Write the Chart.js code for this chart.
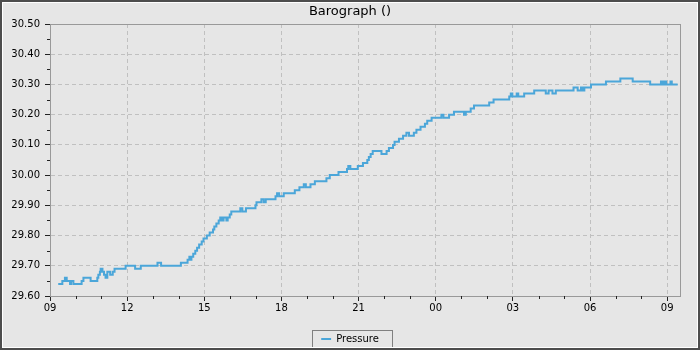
<!DOCTYPE html>
<html>
<head>
<meta charset="utf-8">
<script src="https://cdn.jsdelivr.net/npm/chart.js@4/dist/chart.umd.min.js"></script>
<style>
  html, body { margin: 0; padding: 0; background: #e6e6e6; }
  #wrap { width: 700px; height: 350px; position: relative; }
</style>
</head>
<body>
<div id="wrap"><canvas id="baro"></canvas></div>
<script>
// hours after 09:00 on day one, and the reading that starts at that time
var hoursFrom9 = [0.32, 0.48, 0.58, 0.65, 0.78, 0.82, 0.91, 1.23, 1.30, 1.58,
    1.84, 1.88, 1.94, 1.97, 2.04, 2.10, 2.16, 2.23, 2.34, 2.44,
    2.51, 2.94, 3.31, 3.53, 4.18, 4.32, 5.09, 5.35, 5.42, 5.45,
    5.50, 5.57, 5.65, 5.72, 5.80, 5.90, 5.97, 6.10, 6.21, 6.34,
    6.39, 6.47, 6.56, 6.62, 6.69, 6.75, 6.86, 6.91, 6.99, 7.05,
    7.40, 7.48, 7.62, 7.99, 8.03, 8.22, 8.31, 8.39, 8.77, 8.83,
    8.91, 9.09, 9.52, 9.70, 9.87, 9.95, 10.13, 10.30, 10.75, 10.88,
    11.22, 11.55, 11.60, 11.68, 11.97, 12.17, 12.34, 12.40, 12.47, 12.55,
    12.89, 13.09, 13.18, 13.34, 13.40, 13.57, 13.73, 13.86, 13.96, 14.15,
    14.25, 14.41, 14.58, 14.67, 14.84, 15.22, 15.30, 15.52, 15.71, 16.10,
    16.17, 16.36, 16.49, 17.08, 17.25, 17.86, 17.92, 17.98, 18.15, 18.21,
    18.44, 18.83, 19.28, 19.39, 19.54, 19.67, 20.36, 20.52, 20.65, 20.71,
    20.78, 21.04, 21.62, 22.18, 22.66, 23.34, 23.76, 23.83, 23.89, 23.96,
    24.13, 24.18, 24.41];
var pressure = [29.64, 29.65, 29.66, 29.65, 29.64, 29.65, 29.64, 29.65, 29.66, 29.65,
    29.66, 29.67, 29.68, 29.69, 29.68, 29.67, 29.66, 29.68, 29.67, 29.68,
    29.69, 29.70, 29.69, 29.70, 29.71, 29.70, 29.71, 29.72, 29.73, 29.72,
    29.73, 29.74, 29.75, 29.76, 29.77, 29.78, 29.79, 29.80, 29.81, 29.82,
    29.83, 29.84, 29.85, 29.86, 29.85, 29.86, 29.85, 29.86, 29.87, 29.88,
    29.89, 29.88, 29.89, 29.90, 29.91, 29.92, 29.91, 29.92, 29.93, 29.94,
    29.93, 29.94, 29.95, 29.96, 29.97, 29.96, 29.97, 29.98, 29.99, 30.00,
    30.01, 30.02, 30.03, 30.02, 30.03, 30.04, 30.05, 30.06, 30.07, 30.08,
    30.07, 30.08, 30.09, 30.10, 30.11, 30.12, 30.13, 30.14, 30.13, 30.14,
    30.15, 30.16, 30.17, 30.18, 30.19, 30.20, 30.19, 30.20, 30.21, 30.20,
    30.21, 30.22, 30.23, 30.24, 30.25, 30.26, 30.27, 30.26, 30.27, 30.26,
    30.27, 30.28, 30.27, 30.28, 30.27, 30.28, 30.29, 30.28, 30.29, 30.28,
    30.29, 30.30, 30.31, 30.32, 30.31, 30.30, 30.31, 30.30, 30.31, 30.30,
    30.31, 30.30, 30.30];
var hourLabels = ['09', '12', '15', '18', '21', '00', '03', '06', '09'];
var yMin = 29.60, yMax = 30.50;
var xMax = 24.5;

Chart.defaults.font.family = "'DejaVu Sans', sans-serif";
Chart.defaults.font.size = 10;
Chart.defaults.color = '#000';

var isMajorX = v => Math.abs(v % 3) < 1e-6;
var isMajorY = v => Math.round(v * 100) % 10 === 0;

// Frame, plot border, minor ticks and legend box
const decor = {
    id: 'decor',
    beforeDraw: (chart) => {
        var { ctx, width, height } = chart;
        ctx.save();
        ctx.fillStyle = '#e6e6e6';
        ctx.fillRect(0, 0, width, height);
        ctx.restore();
    },
    afterDraw: (chart) => {
        var { ctx, chartArea, width, height } = chart;
        ctx.save();
        // plot border
        ctx.strokeStyle = '#999';
        ctx.lineWidth = 1;
        ctx.strokeRect(Math.round(chartArea.left) + 0.5, Math.round(chartArea.top) + 0.5,
            Math.round(chartArea.right - chartArea.left), Math.round(chartArea.bottom - chartArea.top));

        // minor ticks
        ctx.strokeStyle = '#222';
        ctx.beginPath();
        var xs = chart.scales.x;
        for (var t of xs.ticks) {
            if (isMajorX(t.value)) continue;
            var px = Math.round(xs.getPixelForValue(t.value)) + 0.5;
            ctx.moveTo(px, chartArea.bottom);
            ctx.lineTo(px, chartArea.bottom + 3);
        }
        var ys = chart.scales.y;
        for (var t of ys.ticks) {
            if (isMajorY(t.value)) continue;
            var py = Math.round(ys.getPixelForValue(t.value)) + 0.5;
            ctx.moveTo(chartArea.left, py);
            ctx.lineTo(chartArea.left - 3, py);
        }
        ctx.stroke();

        // legend box
        var hb = chart.legend.legendHitBoxes[0];
        if (hb) {
            ctx.strokeStyle = '#808080';
            ctx.strokeRect(Math.round(hb.left - 9) + 0.5, Math.round(hb.top - 4) + 0.5,
                Math.round(hb.width + 22), 17);
        }

        // window frame
        ctx.strokeStyle = '#4d4d4d';
        ctx.lineWidth = 2;
        ctx.strokeRect(1, 1, width - 2, height - 2);
        ctx.strokeStyle = '#ffffff';
        ctx.lineWidth = 1;
        ctx.strokeRect(2.5, 2.5, width - 5, height - 5);
        ctx.restore();
    }
};

var points = hoursFrom9.map((h, i) => ({ x: h, y: pressure[i] }));

new Chart(document.getElementById('baro'), {
    type: 'line',
    data: {
        datasets: [{
            label: 'Pressure',
            data: points,
            borderColor: '#4ba6d9',
            backgroundColor: '#4ba6d9',
            borderWidth: 2,
            pointRadius: 0,
            stepped: true,
            fill: false
        }]
    },
    options: {
        responsive: true,
        maintainAspectRatio: false,
        animation: false,
        layout: { padding: { left: 3, right: 3, top: 3, bottom: -4 } },
        plugins: {
            title: {
                display: true,
                text: 'Barograph ()',
                color: '#000',
                font: { size: 13, weight: 'normal' },
                padding: { top: 1, bottom: 4.4 }
            },
            legend: {
                position: 'bottom',
                labels: {
                    usePointStyle: true,
                    pointStyle: 'line',
                    boxHeight: 7,
                    padding: 4,
                    color: '#000',
                    font: { size: 10 }
                }
            },
            tooltip: { enabled: false }
        },
        scales: {
            x: {
                type: 'linear',
                min: 0,
                max: xMax,
                afterBuildTicks: scale => {
                    var list = [];
                    for (var h = 0; h <= Math.floor(xMax); h++) list.push({ value: h });
                    scale.ticks = list;
                },
                afterFit: scale => { scale.height = 34; },
                ticks: {
                    stepSize: 1,
                    autoSkip: false,
                    maxRotation: 0,
                    padding: 1,
                    color: '#000',
                    callback: v => isMajorX(v) ? hourLabels[v / 3] : ''
                },
                grid: {
                    color: c => isMajorX(c.tick.value) ? '#c0c0c0' : 'rgba(0,0,0,0)',
                    tickColor: c => isMajorX(c.tick.value) ? '#222' : 'rgba(0,0,0,0)',
                    tickLength: 5,
                    lineWidth: 1
                },
                border: { color: '#999', dash: [4, 3] }
            },
            y: {
                min: yMin,
                max: yMax,
                afterFit: scale => { scale.width = 47; },
                ticks: {
                    stepSize: 0.05,
                    autoSkip: false,
                    padding: 5,
                    color: '#000',
                    callback: v => isMajorY(v) ? v.toFixed(2) : ''
                },
                grid: {
                    color: c => isMajorY(c.tick.value) ? '#c0c0c0' : 'rgba(0,0,0,0)',
                    tickColor: c => isMajorY(c.tick.value) ? '#222' : 'rgba(0,0,0,0)',
                    tickLength: 5,
                    lineWidth: 1
                },
                border: { color: '#999', dash: [4, 3] }
            },
            yr: {
                position: 'right',
                display: true,
                afterFit: scale => { scale.width = 17; },
                ticks: { display: false },
                grid: { display: false, drawTicks: false },
                border: { display: false }
            }
        }
    },
    plugins: [decor]
});
</script>
</body>
</html>
